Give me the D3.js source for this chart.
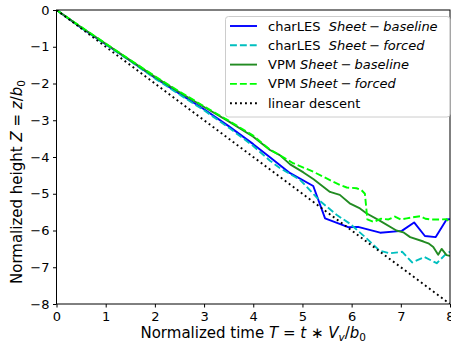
<!DOCTYPE html>
<html><head><meta charset="utf-8">
<script src="https://cdn.jsdelivr.net/npm/d3@7"></script>
<style>
html,body{margin:0;padding:0;background:#fff;}
svg{display:block;font-family:"DejaVu Sans",sans-serif;}
text{white-space:pre;}
</style></head>
<body><svg id="c" width="451" height="344"></svg>
<script>
// ---- data ----
const xTicks = [0,1,2,3,4,5,6,7,8];
const yTicks = [0,-1,-2,-3,-4,-5,-6,-7,-8];

const lesBaseT = [0,0.5,1,1.5,2,2.5,3,3.5,4,4.34,4.75,5.22,5.46,5.93,6.13,6.58,7.02,7.27,7.49,7.71,7.93,8];
const lesBaseZ = [0,-0.48,-0.93,-1.38,-1.84,-2.28,-2.7,-3.16,-3.65,-4.01,-4.44,-4.79,-5.67,-5.91,-5.90,-6.06,-6.01,-5.78,-6.15,-6.18,-5.70,-5.69];

const lesForcT = [0,0.5,1,1.5,2,2.5,3,3.5,4,4.34,4.54,4.95,5.15,5.36,5.7,5.97,6.3,6.57,6.78,7.03,7.23,7.48,7.73,7.93,8];
const lesForcZ = [0,-0.48,-0.94,-1.39,-1.86,-2.3,-2.73,-3.2,-3.7,-4.1,-4.3,-4.62,-4.9,-5.2,-5.58,-5.82,-6.21,-6.55,-6.62,-6.58,-6.87,-6.72,-6.89,-6.62,-6.58];

const vpmBaseT = [0,0.5,1,1.5,2,2.5,3,3.5,4,4.34,4.54,4.75,5.02,5.22,5.56,5.76,5.96,6.17,6.3,6.57,6.91,7.05,7.19,7.46,7.56,7.66,7.76,7.83,7.93,8];
const vpmBaseZ = [0,-0.47,-0.92,-1.37,-1.82,-2.24,-2.64,-3.03,-3.45,-3.81,-3.95,-4.2,-4.42,-4.6,-4.95,-5.03,-5.26,-5.4,-5.53,-5.73,-6.0,-6.05,-6.18,-6.3,-6.35,-6.45,-6.66,-6.5,-6.67,-6.69];

const vpmForcT = [0,0.5,1,1.5,2,2.5,3,3.5,4,4.34,4.54,4.81,5.22,5.56,5.76,5.9,6.1,6.2,6.27,6.32,6.45,6.6,6.75,6.88,7.0,7.12,7.25,7.4,7.5,7.6,7.8,7.93,8];
const vpmForcZ = [0,-0.46,-0.91,-1.36,-1.8,-2.22,-2.62,-3.01,-3.42,-3.8,-3.95,-4.17,-4.4,-4.63,-4.76,-4.83,-4.85,-4.9,-5.0,-5.7,-5.77,-5.68,-5.7,-5.62,-5.7,-5.67,-5.64,-5.61,-5.68,-5.7,-5.7,-5.69,-5.8];

const linT = [0,8];
const linZ = [0,-8];

// ---- layout ----
const W=451,H=344;
const L=56.5,R=450,T=10,B=304;
const svg=d3.select("#c");
const x=d3.scaleLinear().domain([0,8]).range([L,R]);
const y=d3.scaleLinear().domain([-8,0]).range([B,T]);

svg.append("defs").append("clipPath").attr("id","clip")
  .append("rect").attr("x",L).attr("y",T).attr("width",R-L).attr("height",B-T);

const series=[
  {t:lesBaseT,z:lesBaseZ,color:"#0000ff",dash:null},
  {t:lesForcT,z:lesForcZ,color:"#00bfbf",dash:"6.9,3"},
  {t:vpmBaseT,z:vpmBaseZ,color:"#228b22",dash:null},
  {t:vpmForcT,z:vpmForcZ,color:"#00ff00",dash:"6.9,3"},
  {t:linT,z:linZ,color:"#000000",dash:"1.9,3.1"}
];
const line=d3.line().x(d=>x(d[0])).y(d=>y(d[1]));
const g=svg.append("g").attr("clip-path","url(#clip)");
series.forEach(s=>{
  g.append("path").datum(s.t.map((v,i)=>[v,s.z[i]]))
   .attr("d",line).attr("fill","none").attr("stroke",s.color)
   .attr("stroke-width",1.9).attr("stroke-dasharray",s.dash)
   .attr("stroke-linejoin","round");
});

// axes
const fmt=d3.format("d");
const xa=svg.append("g").attr("transform",`translate(0,${B})`)
  .call(d3.axisBottom(x).tickValues(xTicks).tickFormat(fmt).tickSize(3.5).tickPadding(4));
const ya=svg.append("g").attr("transform",`translate(${L},0)`)
  .call(d3.axisLeft(y).tickValues(yTicks).tickFormat(fmt).tickSize(3.5).tickPadding(3.5));
[xa,ya].forEach(a=>{
  a.select(".domain").remove();
  a.selectAll("text").attr("font-size","13px").attr("font-family","DejaVu Sans").attr("fill","#000");
  a.selectAll("line").attr("stroke","#000").attr("stroke-width",1);
});
// frame
svg.append("rect").attr("x",L).attr("y",T).attr("width",R-L).attr("height",B-T)
  .attr("fill","none").attr("stroke","#000").attr("stroke-width",1);

// axis labels
const xl=svg.append("text").attr("x",(L+R)/2).attr("y",338).attr("text-anchor","middle")
  .attr("font-size","15px");
xl.append("tspan").text("Normalized time ");
xl.append("tspan").attr("font-style","italic").text("T");
xl.append("tspan").text(" = ");
xl.append("tspan").attr("font-style","italic").text("t");
xl.append("tspan").text(" ∗ ");
xl.append("tspan").attr("font-style","italic").text("V");
xl.append("tspan").attr("font-style","italic").attr("font-size","10.5px").attr("dy",3).text("v");
xl.append("tspan").attr("dy",-3).text("/");
xl.append("tspan").attr("font-style","italic").text("b");
xl.append("tspan").attr("font-size","10.5px").attr("dy",3).text("0");

const yl=svg.append("text").attr("transform",`translate(22,182) rotate(-90)`)
  .attr("text-anchor","middle").attr("font-size","15px");
yl.append("tspan").text("Normalized height ");
yl.append("tspan").attr("font-style","italic").text("Z");
yl.append("tspan").text(" = ");
yl.append("tspan").attr("font-style","italic").text("z");
yl.append("tspan").text("/");
yl.append("tspan").attr("font-style","italic").text("b");
yl.append("tspan").attr("font-size","10.5px").attr("dy",3).text("0");

// legend
const lg=svg.append("g");
lg.append("rect").attr("x",225.5).attr("y",16.5).attr("width",224.5).attr("height",100.5)
  .attr("rx",3).attr("fill","#fff").attr("fill-opacity",0.8).attr("stroke","#cccccc").attr("stroke-width",1);
const labels=[
  ["charLES  ","Sheet","baseline"],
  ["charLES  ","Sheet","forced"],
  ["VPM ","Sheet","baseline"],
  ["VPM ","Sheet","forced"],
  ["linear descent",null,null]
];
labels.forEach((lb,i)=>{
  const yy=26+i*19.3;
  const s=series[i];
  lg.append("line").attr("x1",230).attr("x2",257).attr("y1",yy).attr("y2",yy)
    .attr("stroke",s.color).attr("stroke-width",1.9).attr("stroke-dasharray",s.dash);
  const t=lg.append("text").attr("x",268).attr("y",yy+4.5).attr("font-size","13px");
  t.append("tspan").text(lb[0]);
  if(lb[1]){
    t.append("tspan").attr("font-style","italic").text(lb[1]);
    t.append("tspan").attr("dx",3).text("−");
    t.append("tspan").attr("dx",3).attr("font-style","italic").text(lb[2]);
  }
});
</script></body></html>
